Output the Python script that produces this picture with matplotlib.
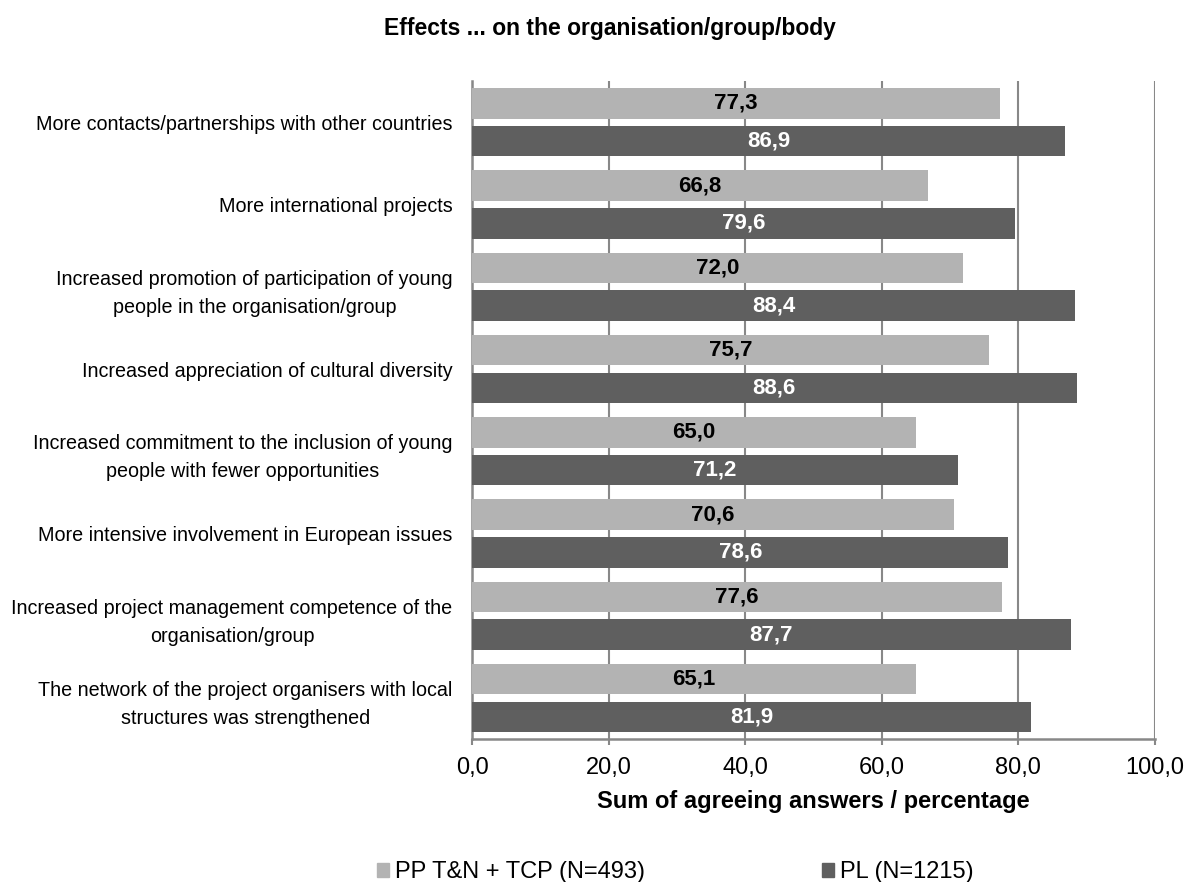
import matplotlib
matplotlib.use("Agg")
import matplotlib.pyplot as plt
import matplotlib.patches as mpatches
import numpy as np

plt.rcParams['font.family'] = ['Liberation Sans', 'DejaVu Sans']

# data
categories = [
    "More contacts/partnerships with other countries",
    "More international projects",
    "Increased promotion of participation of young\npeople in the organisation/group",
    "Increased appreciation of cultural diversity",
    "Increased commitment to the inclusion of young\npeople with fewer opportunities",
    "More intensive involvement in European issues",
    "Increased project management competence of the\norganisation/group",
    "The network of the project organisers with local\nstructures was strengthened",
]
pp_vals = [77.3, 66.8, 72.0, 75.7, 65.0, 70.6, 77.6, 65.1]
pl_vals = [86.9, 79.6, 88.4, 88.6, 71.2, 78.6, 87.7, 81.9]
series_names = ["PP T&N + TCP (N=493)", "PL (N=1215)"]
xticks = [0, 20, 40, 60, 80, 100]

light = "#b3b3b3"
dark = "#5f5f5f"
grid_col = "#888888"

fig = plt.figure(figsize=(11.89, 8.82), dpi=100)
ax = fig.add_axes([0.397, 0.162, 0.574, 0.746])

y = np.arange(len(categories))
h = 0.37
ax.barh(y - 0.23, pp_vals, height=h, color=light, zorder=3)
ax.barh(y + 0.23, pl_vals, height=h, color=dark, zorder=3)

def fmt(v):
    return f"{v:.1f}".replace(".", ",")

for yi, v in zip(y, pp_vals):
    ax.text(v / 2, yi - 0.23, fmt(v), ha='center', va='center',
            fontsize=16, fontweight='bold', color='black', zorder=4)
for yi, v in zip(y, pl_vals):
    ax.text(v / 2, yi + 0.23, fmt(v), ha='center', va='center',
            fontsize=16, fontweight='bold', color='white', zorder=4)

ax.set_xlim(0, 100)
ax.set_ylim(len(categories) - 0.5, -0.5)
ax.set_xticks(xticks)
ax.set_xticklabels([fmt(t) for t in xticks], fontsize=17)
ax.set_yticks(y)
ax.set_yticklabels(categories, fontsize=14.2, multialignment='center',
                   linespacing=1.6)
ax.tick_params(axis='y', length=0, pad=14)
ax.tick_params(axis='x', length=4, width=1.5, color=grid_col, pad=9, direction='out')

ax.xaxis.grid(True, color=grid_col, linewidth=1.5, zorder=0)
for s in ['top', 'right']:
    ax.spines[s].set_visible(False)
for s in ['left', 'bottom']:
    ax.spines[s].set_color(grid_col)
    ax.spines[s].set_linewidth(1.8)

ax.set_xlabel("Sum of agreeing answers / percentage", fontsize=17,
              fontweight='bold', labelpad=8)

fig.text(0.513, 0.968, "Effects ... on the organisation/group/body",
         ha='center', va='center', fontsize=16.5, fontweight='bold')

handles = [mpatches.Patch(color=light), mpatches.Patch(color=dark)]
fig.legend(handles, series_names, loc='center', bbox_to_anchor=(0.568, 0.011),
           ncol=2, frameon=False, fontsize=17, handlelength=0.5,
           handleheight=0.5, handletextpad=0.25, columnspacing=7.5,
           borderpad=0)

fig.savefig("out.png", dpi=100)
